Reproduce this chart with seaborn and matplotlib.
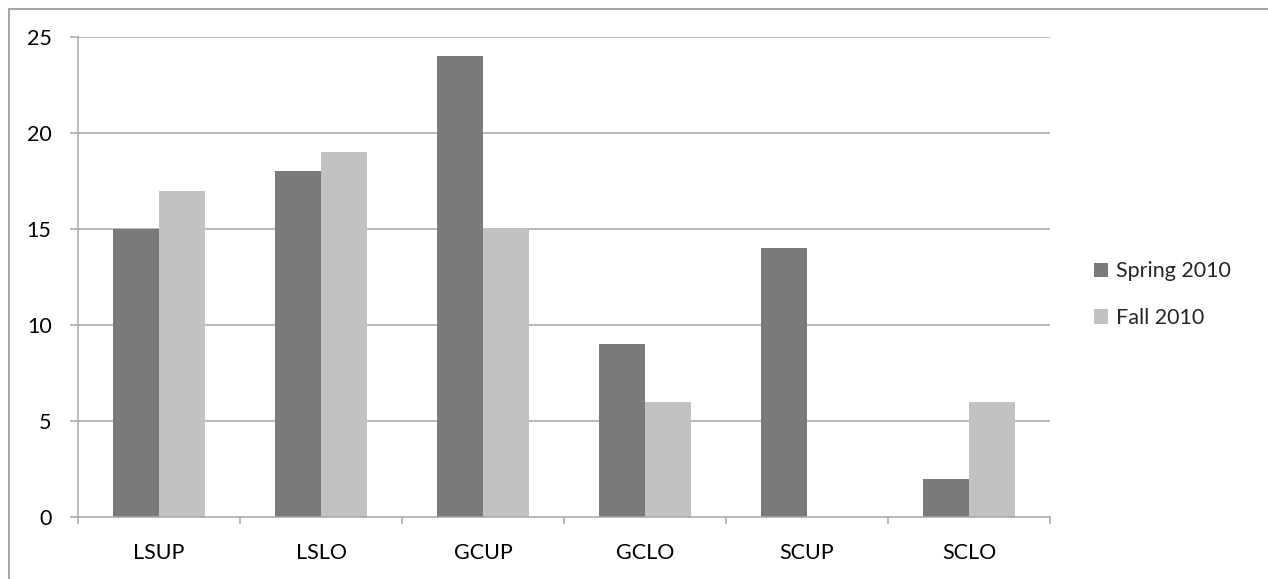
import matplotlib
matplotlib.use("Agg")
import matplotlib.pyplot as plt
import seaborn as sns
import pandas as pd
from matplotlib.lines import Line2D

categories = ["LSUP", "LSLO", "GCUP", "GCLO", "SCUP", "SCLO"]
spring_2010 = [15, 18, 24, 9, 14, 2]
fall_2010 = [17, 19, 15, 6, 0, 6]
series_names = ["Spring 2010", "Fall 2010"]
y_ticks = [0, 5, 10, 15, 20, 25]

df = pd.DataFrame({
    "category": categories * 2,
    "value": spring_2010 + fall_2010,
    "series": [series_names[0]] * len(categories) + [series_names[1]] * len(categories),
})

sns.set_theme(style="white")
plt.rcParams["font.family"] = ["Lato", "DejaVu Sans"]

W, H, DPI = 1268, 579, 100
fig = plt.figure(figsize=(W / DPI, H / DPI), dpi=DPI)
ax = fig.add_axes([78 / W, 1 - 517 / H, (1050 - 78) / W, (517 - 37) / H])

grid_color = "#a6a6a6"
palette = {series_names[0]: "#7a7a7a", series_names[1]: "#c2c2c2"}
fs = 15.5

sns.barplot(data=df, x="category", y="value", hue="series", order=categories,
            hue_order=series_names, palette=palette, width=0.57, gap=0,
            saturation=1, edgecolor="none", linewidth=0, ax=ax, zorder=3)

ax.set_ylim(0, 25)
ax.set_xlim(-0.5, len(categories) - 0.5)
ax.set_yticks(y_ticks)
ax.set_yticklabels([str(t) for t in y_ticks])
ax.set_xlabel("")
ax.set_ylabel("")

for t in y_ticks[1:]:
    ax.axhline(t, color=grid_color, lw=1.1, zorder=1)

for side in ["top", "right"]:
    ax.spines[side].set_visible(False)
for side in ["left", "bottom"]:
    ax.spines[side].set_color(grid_color)
    ax.spines[side].set_linewidth(1.1)
    ax.spines[side].set_zorder(4)

# category ticks sit on the boundaries between groups
ax.set_xticks([i for i in range(len(categories))])
ax.set_xticklabels(categories)
ax.set_xticks([i - 0.5 for i in range(len(categories) + 1)], minor=True)
ax.tick_params(axis="x", which="major", length=0, pad=19, labelsize=fs, labelcolor="black")
ax.tick_params(axis="x", which="minor", length=5, width=1.1, color=grid_color, direction="out", bottom=True)
ax.tick_params(axis="y", which="major", length=6, width=1.1, color=grid_color, direction="out",
               pad=13, labelsize=fs, labelcolor="black", left=True)

leg = ax.legend(loc="center left", bbox_to_anchor=(1.036, 0.463), frameon=False,
                fontsize=fs, handlelength=0.65, handleheight=0.65, handletextpad=0.4,
                labelspacing=1.25, borderaxespad=0)

# chart-area frame: left and top edges
fig.add_artist(Line2D([8.5 / W, 8.5 / W], [0, 1 - 8.5 / H], transform=fig.transFigure,
                      color=grid_color, lw=1.5))
fig.add_artist(Line2D([8.5 / W, 1], [1 - 8.5 / H, 1 - 8.5 / H], transform=fig.transFigure,
                      color=grid_color, lw=1.5))

fig.savefig("out.png", dpi=DPI, facecolor="white")
